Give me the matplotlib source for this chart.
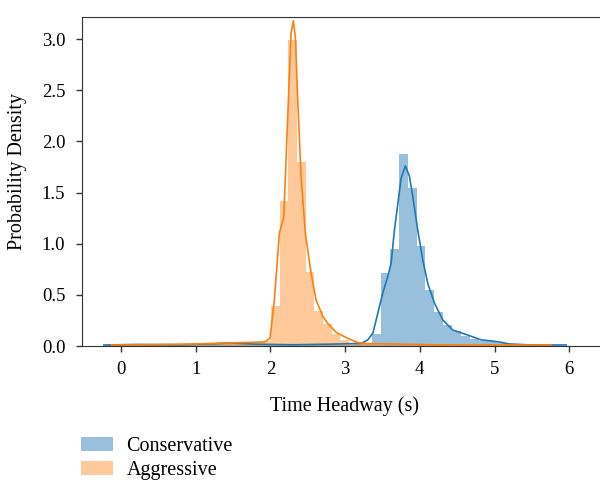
import numpy as np
import matplotlib
matplotlib.use("Agg")
import matplotlib.pyplot as plt
from matplotlib.patches import Patch

plt.rcParams["font.family"] = ["Liberation Serif", "DejaVu Serif"]

# histogram bins (50 bins each)
cons_start, cons_width = -0.209, 0.119
cons_heights = [0.01, 0.01, 0.01, 0.01, 0.01, 0.01, 0.01, 0.01, 0.01, 0.01,
                0.01, 0.01, 0.02, 0.02, 0.02, 0.03, 0.02, 0.02, 0.01, 0.01,
                0.01, 0.01, 0.01, 0.01, 0.01, 0.01, 0.01, 0.01, 0.02, 0.03,
                0.12, 0.71, 0.95, 1.88, 1.54, 0.98, 0.55, 0.33, 0.205, 0.15,
                0.10, 0.065, 0.05, 0.05, 0.03, 0.02, 0.01, 0.01, 0.01, 0.01]

aggr_start, aggr_width = -0.079, 0.116
aggr_heights = [0.01, 0.01, 0.01, 0.01, 0.01, 0.01, 0.01, 0.02, 0.02, 0.02,
                0.02, 0.02, 0.03, 0.03, 0.03, 0.03, 0.04, 0.05, 0.39, 1.42,
                2.99, 1.80, 0.72, 0.34, 0.215, 0.12, 0.06, 0.03, 0.02, 0.02,
                0.01, 0.01, 0.01, 0.01, 0.01, 0.01, 0.01, 0.01, 0.01, 0.01,
                0.01, 0.01, 0.01, 0.01, 0.01, 0.01, 0.01, 0.01, 0.01, 0.01]

# density curves
cons_kde_x = [-0.23, 0.2, 0.8, 1.2, 1.47, 1.8, 2.3, 2.946, 3.214, 3.304, 3.371,
              3.438, 3.505, 3.572, 3.616, 3.66, 3.706, 3.75, 3.807, 3.861,
              3.906, 3.973, 4.04, 4.107, 4.196, 4.308, 4.442, 4.643, 4.821,
              4.955, 5.09, 5.196, 5.5, 5.96]
cons_kde_y = [0.01, 0.015, 0.012, 0.02, 0.03, 0.018, 0.012, 0.02, 0.026, 0.06,
              0.124, 0.32, 0.52, 0.68, 0.81, 1.13, 1.39, 1.64, 1.76, 1.66,
              1.46, 1.13, 0.84, 0.61, 0.42, 0.254, 0.156, 0.107, 0.06, 0.05,
              0.036, 0.02, 0.01, 0.01]

aggr_kde_x = [-0.13, 0.5, 1.0, 1.4, 1.741, 1.919, 1.995, 2.053, 2.12, 2.179,
              2.232, 2.277, 2.307, 2.334, 2.366, 2.411, 2.468, 2.545, 2.611,
              2.701, 2.768, 2.879, 3.036, 3.17, 3.281, 3.6, 4.2, 5.0, 5.76]
aggr_kde_y = [0.01, 0.015, 0.02, 0.03, 0.036, 0.04, 0.075, 0.45, 1.10, 1.26,
              2.24, 3.06, 3.18, 3.02, 2.40, 1.65, 1.10, 0.71, 0.45, 0.29,
              0.22, 0.134, 0.075, 0.032, 0.025, 0.02, 0.012, 0.01, 0.01]

blue = "#1f77b4"
orange = "#ff7f0e"

fig = plt.figure(figsize=(6, 4.87), dpi=100)
ax = fig.add_axes([0.1367, 0.2895, 0.865, 0.6755])

cons_edges = cons_start + cons_width * np.arange(len(cons_heights))
aggr_edges = aggr_start + aggr_width * np.arange(len(aggr_heights))

ax.bar(cons_edges, cons_heights, width=cons_width, align="edge",
       color=blue, alpha=0.46, linewidth=0)
ax.plot(cons_kde_x, cons_kde_y, color=blue, lw=1.2)
ax.bar(aggr_edges, aggr_heights, width=aggr_width, align="edge",
       color=orange, alpha=0.42, linewidth=0)
ax.plot(aggr_kde_x, aggr_kde_y, color=orange, lw=1.2)

ax.set_xlim(-0.522, 6.426)
ax.set_ylim(0, 3.215)
ax.set_xticks(range(0, 7))
ax.set_yticks([0.0, 0.5, 1.0, 1.5, 2.0, 2.5, 3.0])
ax.set_yticklabels(["0.0", "0.5", "1.0", "1.5", "2.0", "2.5", "3.0"])
ax.tick_params(labelsize=13.5, length=4, width=1, color="#333333")
ax.tick_params(axis="x", pad=7)
ax.tick_params(axis="y", pad=8)
ax.set_xlabel("Time Headway (s)", fontsize=14.5)
ax.xaxis.set_label_coords(0.505, -0.154)
ax.set_ylabel("Probability Density", fontsize=14.5)
ax.yaxis.set_label_coords(-0.106, 0.53)
for s in ax.spines.values():
    s.set_color("#333333")

handles = [Patch(color=blue, alpha=0.46, lw=0), Patch(color=orange, alpha=0.42, lw=0)]
fig.legend(handles, ["Conservative", "Aggressive"], loc="upper left",
           bbox_to_anchor=(0.135, 0.103), frameon=False, fontsize=14.5,
           handlelength=1.6, handleheight=0.7, labelspacing=0.25, handletextpad=0.65,
           borderaxespad=0, borderpad=0)

fig.savefig("out.png", dpi=100)
